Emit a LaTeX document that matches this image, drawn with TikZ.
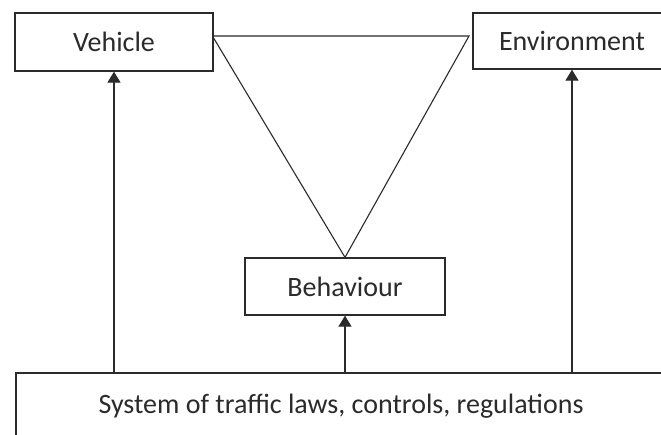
\documentclass[tikz,border=0pt]{standalone}
\usepackage{fontspec}
\setmainfont{Carlito}
\usetikzlibrary{arrows.meta}
\definecolor{ink}{HTML}{2B2B2B}
\tikzset{
    box/.style={draw=ink,line width=1.3pt,inner sep=0pt,text=ink,font=\fontsize{28}{33}\selectfont},
    arr/.style={draw=ink,line width=1.3pt,-{Triangle[width=13pt,length=11pt]}},
}
\begin{document}
\begin{tikzpicture}[x=1pt,y=-1pt]
    \useasboundingbox[fill=white] (0,0) rectangle (661,434);
    \node[box,minimum width=198pt,minimum height=58pt] (veh) at (114,42) {Vehicle};
    \node[box,minimum width=198pt,minimum height=56pt] (env) at (572,41) {Environment};
    \node[box,minimum width=200pt,minimum height=57pt] (beh) at (345,286.5) {Behaviour};
    \node[box,minimum width=650pt,minimum height=66pt] (sys) at (341,406) {System of traffic laws, controls, regulations};

    \coordinate (envtip) at (469,36);
    \draw[ink,line width=1.1pt] (veh.east |- 0,36) -- (envtip) -- (beh.north) -- (veh.east |- 0,38);

    \draw[arr] (sys.north -| veh) -- (veh.south);
    \draw[arr] (sys.north -| beh) -- (beh.south);
    \draw[arr] (sys.north -| env) -- (env.south);
\end{tikzpicture}
\end{document}
